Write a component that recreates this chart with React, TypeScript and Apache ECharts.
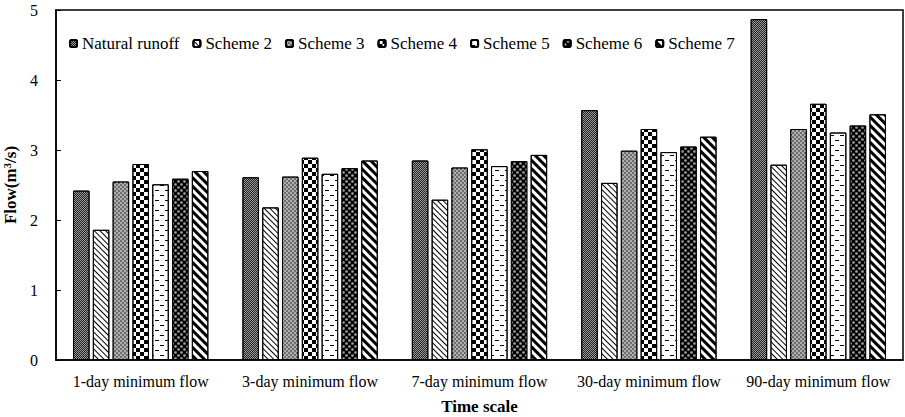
import React, { useEffect, useRef } from "react";
import * as echarts from "echarts";

const categories = [
  "1-day minimum flow",
  "3-day minimum flow",
  "7-day minimum flow",
  "30-day minimum flow",
  "90-day minimum flow",
];
const seriesNames = ["Natural runoff", "Scheme 2", "Scheme 3", "Scheme 4", "Scheme 5", "Scheme 6", "Scheme 7"];
const naturalRunoff = [2.42, 2.61, 2.85, 3.57, 4.87];
const scheme2 = [1.86, 2.18, 2.29, 2.53, 2.79];
const scheme3 = [2.55, 2.62, 2.75, 2.99, 3.3];
const scheme4 = [2.8, 2.89, 3.01, 3.3, 3.66];
const scheme5 = [2.51, 2.66, 2.77, 2.97, 3.25];
const scheme6 = [2.59, 2.74, 2.84, 3.05, 3.35];
const scheme7 = [2.7, 2.85, 2.93, 3.19, 3.51];
const seriesValues = [naturalRunoff, scheme2, scheme3, scheme4, scheme5, scheme6, scheme7];
const yTicks = [0, 1, 2, 3, 4, 5];

const FONT = "'Times New Roman', 'Liberation Serif', serif";

const decals: any[] = [
  { symbol: "rect", symbolSize: 1, color: "#222", backgroundColor: "#9a9a9a", dashArrayX: [[1, 1], [0, 1, 1, 0]], dashArrayY: [1, 0], rotation: 0 },
  { symbol: "rect", color: "#000", backgroundColor: "#fff", dashArrayX: [1, 0], dashArrayY: [1, 3], rotation: Math.PI / 4 },
  { symbol: "rect", symbolSize: 0.7, color: "#e8e8e8", backgroundColor: "#6e6e6e", dashArrayX: [[2, 2], [0, 2, 2, 0]], dashArrayY: [2, 0], rotation: 0 },
  { symbol: "rect", color: "#000", backgroundColor: "#fff", dashArrayX: [[4, 4], [0, 4, 4, 0]], dashArrayY: [4, 0], rotation: 0 },
  { symbol: "rect", color: "#000", backgroundColor: "#fff", dashArrayX: [[4, 6], [0, 5, 4, 1]], dashArrayY: [1, 4], rotation: 0 },
  { symbol: "circle", symbolSize: 0.9, color: "#a0a0a0", backgroundColor: "#000", dashArrayX: [[3, 3], [0, 3, 3, 0]], dashArrayY: [3, 0], rotation: 0 },
  { symbol: "rect", color: "#000", backgroundColor: "#fff", dashArrayX: [1, 0], dashArrayY: [3, 3], rotation: Math.PI / 4 },
];

export default function App() {
  const ref = useRef<HTMLDivElement>(null);
  useEffect(() => {
    const chart = echarts.init(ref.current!, undefined, { renderer: "svg" });
    chart.setOption({
      animation: false,
      backgroundColor: "#fff",
      textStyle: { fontFamily: FONT },
      legend: {
        data: seriesNames,
        left: 64,
        top: 30,
        itemWidth: 7,
        itemHeight: 7,
        itemGap: 13,
        textStyle: { fontFamily: FONT, fontSize: 17, color: "#000" },
      },
      grid: {
        left: 56,
        right: 2,
        top: 10,
        bottom: 57,
        show: true,
        borderColor: "#000",
        borderWidth: 1.5,
        backgroundColor: "transparent",
        outerBoundsMode: "none",
        containLabel: false,
      },
      xAxis: {
        type: "category",
        data: categories,
        name: "Time scale",
        nameLocation: "middle",
        nameGap: 38,
        nameTextStyle: { fontFamily: FONT, fontSize: 17, fontWeight: "bold", color: "#000" },
        axisLine: { lineStyle: { color: "#000", width: 1.5 } },
        axisTick: { inside: true, length: 5, lineStyle: { color: "#000" } },
        axisLabel: { fontFamily: FONT, fontSize: 16, color: "#000", margin: 13, interval: 0 },
      },
      yAxis: {
        type: "value",
        min: 0,
        max: 5,
        interval: 1,
        name: "Flow(m{sup|3}/s)",
        nameLocation: "middle",
        nameGap: 31,
        nameTextStyle: {
          fontFamily: FONT,
          fontSize: 17,
          fontWeight: "bold",
          color: "#000",
          rich: { sup: { fontFamily: FONT, fontSize: 11, fontWeight: "bold", color: "#000", verticalAlign: "top", padding: [0, 0, 8, 0] } },
        },
        axisLine: { show: true, lineStyle: { color: "#000", width: 1.5 } },
        axisTick: { show: true, inside: true, length: 5, lineStyle: { color: "#000" } },
        axisLabel: { fontFamily: FONT, fontSize: 16, color: "#000", margin: 18, formatter: (v: number) => (yTicks.includes(v) ? String(v) : "") },
        splitLine: { show: false },
      },
      series: seriesNames.map((name, i) => ({
        name,
        type: "bar",
        data: seriesValues[i],
        barWidth: 16.5,
        barGap: "20%",
        itemStyle: { color: decals[i].backgroundColor, borderColor: "#000", borderWidth: 1, decal: decals[i] },
      })),
    });
    return () => chart.dispose();
  }, []);
  return <div ref={ref} style={{ width: 905, height: 417, position: "absolute", left: 0, top: 0 }} />;
}
